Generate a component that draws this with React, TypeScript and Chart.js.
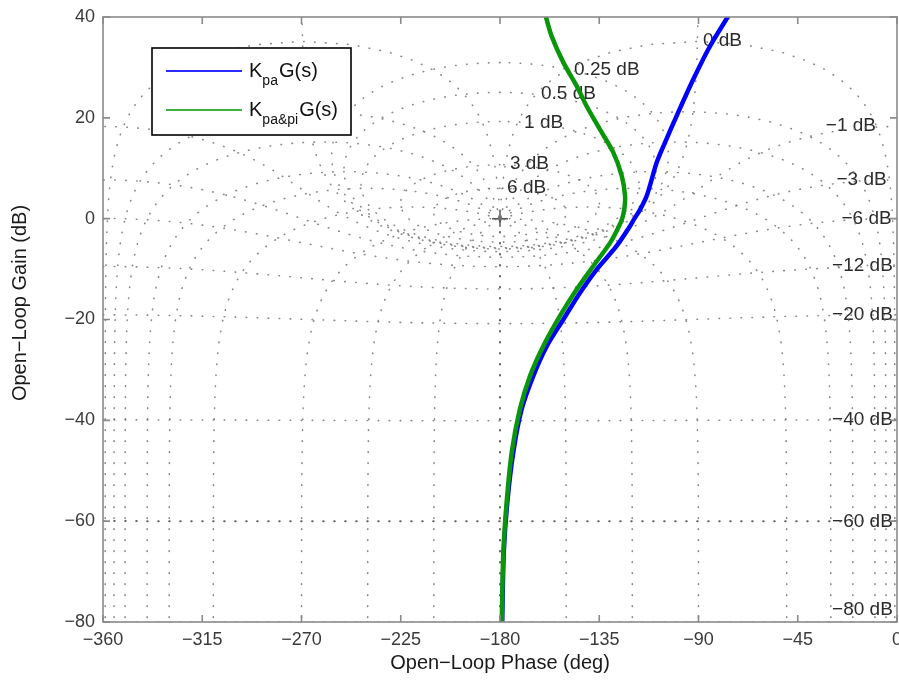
import React, { useEffect, useRef } from 'react';
import { Chart, registerables } from 'chart.js';

Chart.register(...registerables);

// ---------- data ----------
const phaseTicks = [-360, -315, -270, -225, -180, -135, -90, -45, 0];
const gainTicks = [40, 20, 0, -20, -40, -60, -80];

const seriesNames = ['Kpa G(s)', 'Kpa&pi G(s)'];

// K_pa G(s): open-loop phase (deg) / gain (dB)
const bluePhase = [-76.5, -84.8, -92.4, -99.9, -105.2, -109.0, -111.2, -113.5, -116.5, -119.2, -121.5, -127.1, -136.2, -143.7, -151.3, -158.8, -164.9, -170.3, -174.0, -176.7, -178.3, -179.0];
const blueGain = [40.2, 34.2, 27.6, 20.4, 15.1, 11.1, 7.8, 4.5, 1.8, -0.1, -1.8, -5.4, -10.1, -14.7, -20.0, -25.3, -31.2, -38.0, -46.4, -56.3, -66.3, -80.0];

// K_pa&pi G(s)
const greenPhase = [-159.3, -156.6, -151.3, -145.2, -140.7, -134.7, -128.6, -124.8, -123.3, -123.6, -124.6, -126.6, -130.1, -137.7, -145.2, -152.8, -160.4, -166.4, -171.0, -174.7, -177.0, -178.5, -179.2];
const greenGain = [40.2, 36.2, 31.0, 26.3, 22.3, 17.7, 13.1, 8.5, 4.5, 2.0, 0.0, -2.0, -4.8, -9.4, -14.0, -19.3, -25.3, -31.2, -37.8, -46.4, -56.3, -66.3, -80.0];

// Nichols grid levels
const gridGainsDb = [6, 3, 1, 0.5, 0.25, 0, -1, -3, -6, -12, -20, -40, -60, -80];
const gridPhasesDeg = [1, 5, 10, 20, 30, 50, 90, 120, 150, 180];

// grid label annotations
const gridLabelText = ['0 dB', '0.25 dB', '0.5 dB', '1 dB', '3 dB', '6 dB', '\u22121 dB', '\u22123 dB', '\u22126 dB', '\u221212 dB', '\u221220 dB', '\u221240 dB', '\u221260 dB', '\u221280 dB'];
const gridLabelPhase = [-88, -146.4, -161.4, -169.1, -175.5, -176.8, -9.5, -4.7, -2.4, -1.9, -1.9, -1.9, -1.9, -1.9];
const gridLabelGain = [35.2, 29.6, 24.7, 19.1, 10.8, 6.2, 18.4, 7.8, -0.1, -9.4, -19.0, -39.9, -60.1, -77.5];
const gridLabelAlign = ['left', 'left', 'left', 'left', 'left', 'left', 'right', 'right', 'right', 'right', 'right', 'right', 'right', 'right'];

const FONT = '"Liberation Sans", Arial, Helvetica, sans-serif';

type P = { x: number; y: number };

function cl2ol(m: number, th: number): P | null {
  const tr = m * Math.cos(th);
  const ti = m * Math.sin(th);
  const dr = 1 - tr;
  const di = -ti;
  const den = dr * dr + di * di;
  if (den < 1e-14) return null;
  const gr = (tr * dr + ti * di) / den;
  const gi = (ti * dr - tr * di) / den;
  const mag = Math.hypot(gr, gi);
  if (mag <= 0) return null;
  let x = (Math.atan2(gi, gr) * 180) / Math.PI;
  if (x > 0) x -= 360;
  return { x, y: 20 * Math.log10(mag) };
}

function mContour(db: number): P[][] {
  const m = Math.pow(10, db / 20);
  const segs: P[][] = [];
  let cur: P[] = [];
  const N = 4000;
  let prev: P | null = null;
  for (let i = 0; i <= N; i++) {
    const th = (i / N) * 2 * Math.PI;
    const p = cl2ol(m, th);
    if (!p || p.y > 70) {
      if (cur.length > 1) segs.push(cur);
      cur = [];
      prev = null;
      continue;
    }
    if (prev && Math.abs(p.x - prev.x) > 180) {
      if (cur.length > 1) segs.push(cur);
      cur = [];
    }
    cur.push(p);
    prev = p;
  }
  if (cur.length > 1) segs.push(cur);
  return segs;
}

function nContour(phDeg: number): P[][] {
  const th = (-phDeg * Math.PI) / 180;
  const pts: P[] = [];
  const N = 3000;
  for (let i = 0; i <= N; i++) {
    const lm = -4.5 + (i / N) * 9;
    const p = cl2ol(Math.pow(10, lm), th);
    if (!p) continue;
    if (p.y > 70) continue;
    pts.push(p);
  }
  if (phDeg === 180) return [pts];
  const mirror = pts.map((p) => ({ x: -360 - p.x, y: p.y }));
  return [pts, mirror];
}

const minusFix = (v: number | string) => String(v).replace('-', '\u2212');

export default function App() {
  const ref = useRef<HTMLCanvasElement | null>(null);

  useEffect(() => {
    document.body.style.margin = '0';
    const canvas = ref.current;
    if (!canvas) return;

    const gridStyle = (strong: boolean) => ({
      borderColor: strong ? 'rgba(80,80,80,0.9)' : 'rgba(115,115,115,0.85)',
      borderWidth: strong ? 2.0 : 1.6,
      borderDash: [0.5, 10.5],
      borderCapStyle: 'round' as const,
      pointRadius: 0,
      showLine: true,
      fill: false,
      tension: 0,
    });

    const gridSets: any[] = [];
    gridGainsDb.forEach((g) => {
      mContour(g).forEach((seg) => gridSets.push({ label: 'grid', data: seg, ...gridStyle(g === -60) }));
    });
    gridPhasesDeg.forEach((p) => {
      nContour(p).forEach((seg) => gridSets.push({ label: 'grid', data: seg, ...gridStyle(p === 180) }));
    });

    const green = greenPhase.map((x, i) => ({ x, y: greenGain[i] }));
    const blue = bluePhase.map((x, i) => ({ x, y: blueGain[i] }));

    const overlay = {
      id: 'overlay',
      beforeDatasetsDraw(chart: any) {
        const { ctx, scales } = chart;
        const xs = scales.x;
        const ys = scales.y;
        ctx.save();
        ctx.font = `19px ${FONT}`;
        ctx.fillStyle = '#2a2a2a';
        ctx.textBaseline = 'middle';
        gridLabelText.forEach((t, i) => {
          ctx.textAlign = gridLabelAlign[i];
          ctx.fillText(t, xs.getPixelForValue(gridLabelPhase[i]), ys.getPixelForValue(gridLabelGain[i]));
        });
        // critical point marker
        const cx = xs.getPixelForValue(-180);
        const cy = ys.getPixelForValue(0);
        ctx.strokeStyle = '#555';
        ctx.lineWidth = 1.5;
        ctx.beginPath();
        ctx.moveTo(cx - 8, cy);
        ctx.lineTo(cx + 8, cy);
        ctx.moveTo(cx, cy - 8);
        ctx.lineTo(cx, cy + 8);
        ctx.stroke();
        ctx.restore();
      },
      afterDraw(chart: any) {
        const { ctx, chartArea, scales } = chart;
        const { left, right, top, bottom } = chartArea;
        const xs = scales.x;
        const ys = scales.y;
        ctx.save();
        // box + inward ticks
        ctx.strokeStyle = '#8a8a8a';
        ctx.lineWidth = 1.6;
        ctx.strokeRect(left, top, right - left, bottom - top);
        ctx.beginPath();
        phaseTicks.forEach((v) => {
          const px = xs.getPixelForValue(v);
          ctx.moveTo(px, bottom);
          ctx.lineTo(px, bottom - 7);
          ctx.moveTo(px, top);
          ctx.lineTo(px, top + 7);
        });
        gainTicks.forEach((v) => {
          const py = ys.getPixelForValue(v);
          ctx.moveTo(left, py);
          ctx.lineTo(left + 7, py);
          ctx.moveTo(right, py);
          ctx.lineTo(right - 7, py);
        });
        ctx.stroke();

        // axis titles
        ctx.fillStyle = '#1a1a1a';
        ctx.font = `20px ${FONT}`;
        ctx.textAlign = 'center';
        ctx.textBaseline = 'middle';
        ctx.fillText('Open\u2212Loop Phase (deg)', (left + right) / 2, 663);
        ctx.save();
        ctx.translate(20, 303);
        ctx.rotate(-Math.PI / 2);
        ctx.fillText('Open\u2212Loop Gain (dB)', 0, 0);
        ctx.restore();

        // legend
        const lx = 152, ly = 48, lw = 199, lh = 87;
        ctx.fillStyle = '#fff';
        ctx.fillRect(lx, ly, lw, lh);
        ctx.strokeStyle = '#000';
        ctx.lineWidth = 1.6;
        ctx.strokeRect(lx, ly, lw, lh);
        const rows = [
          { y: 71, color: '#2b2bff', main: 'K', sub: 'pa' },
          { y: 110, color: '#3cb43c', main: 'K', sub: 'pa&pi' },
        ];
        rows.forEach((r, i) => {
          ctx.strokeStyle = r.color;
          ctx.lineWidth = 2;
          ctx.beginPath();
          ctx.moveTo(166, r.y);
          ctx.lineTo(242, r.y);
          ctx.stroke();
          ctx.fillStyle = '#111';
          ctx.textAlign = 'left';
          ctx.textBaseline = 'alphabetic';
          let x = 249;
          ctx.font = `20px ${FONT}`;
          ctx.fillText(r.main, x, r.y + 6);
          x += ctx.measureText(r.main).width;
          ctx.font = `14px ${FONT}`;
          ctx.fillText(r.sub, x, r.y + 14);
          x += ctx.measureText(r.sub).width;
          ctx.font = `20px ${FONT}`;
          ctx.fillText('G(s)', x + 1, r.y + 6);
          void seriesNames[i];
        });
        ctx.restore();
      },
    };

    const chart = new Chart(canvas, {
      type: 'scatter',
      data: {
        datasets: [
          {
            label: seriesNames[1],
            data: green,
            borderColor: '#0a960a',
            borderWidth: 4.5,
            pointRadius: 0,
            showLine: true,
            tension: 0.3,
          } as any,
          {
            label: seriesNames[0],
            data: blue,
            borderColor: '#0000ff',
            borderWidth: 4.5,
            pointRadius: 0,
            showLine: true,
            tension: 0.3,
          } as any,
          ...gridSets,
        ],
      },
      options: {
        animation: false,
        responsive: true,
        maintainAspectRatio: false,
        devicePixelRatio: 1,
        layout: { padding: { left: 0, right: 2, top: 17, bottom: 0 } },
        plugins: {
          legend: { display: false },
          tooltip: { enabled: false },
          title: { display: false },
        },
        scales: {
          x: {
            type: 'linear',
            min: -360,
            max: 0,
            afterBuildTicks: (s: any) => {
              s.ticks = phaseTicks.map((v) => ({ value: v }));
            },
            afterFit: (s: any) => {
              s.height = 60;
              s.paddingLeft = 0;
              s.paddingRight = 0;
            },
            grid: { display: false, drawTicks: false },
            border: { display: false },
            ticks: {
              autoSkip: false,
              maxRotation: 0,
              padding: 7,
              color: '#3a3a3a',
              font: { family: FONT, size: 18 },
              callback: (v: any) => minusFix(v),
            },
          },
          y: {
            type: 'linear',
            min: -80,
            max: 40,
            afterBuildTicks: (s: any) => {
              s.ticks = gainTicks.map((v) => ({ value: v }));
            },
            afterFit: (s: any) => {
              s.width = 103;
              s.paddingTop = 0;
              s.paddingBottom = 0;
            },
            grid: { display: false, drawTicks: false },
            border: { display: false },
            ticks: {
              autoSkip: false,
              padding: 8,
              color: '#3a3a3a',
              font: { family: FONT, size: 18 },
              callback: (v: any) => minusFix(v),
            },
          },
        },
      } as any,
      plugins: [overlay],
    });

    return () => chart.destroy();
  }, []);

  return (
    <div style={{ width: 899, height: 682, position: 'relative' }}>
      <canvas ref={ref} />
    </div>
  );
}
